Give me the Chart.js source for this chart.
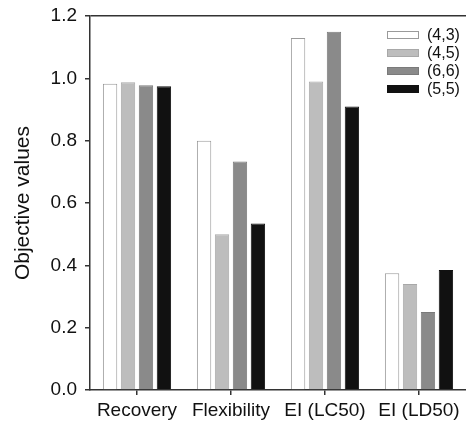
<!DOCTYPE html>
<html><head><meta charset="utf-8">
<script src="https://cdn.jsdelivr.net/npm/chart.js@4/dist/chart.umd.min.js"></script>
<style>html,body{margin:0;padding:0;background:#fff;}#wrap{width:466px;height:426px;}</style>
</head><body><div id="wrap"><canvas id="c" width="466" height="426"></canvas></div>
<script>
const categories = ['Recovery', 'Flexibility', 'EI (LC50)', 'EI (LD50)'];
const seriesLabels = ['(4,3)', '(4,5)', '(6,6)', '(5,5)'];
const s43 = [0.983, 0.80, 1.13, 0.375];
const s45 = [0.988, 0.50, 0.99, 0.34];
const s66 = [0.978, 0.733, 1.15, 0.25];
const s55 = [0.975, 0.534, 0.91, 0.385];
const yTicks = [0.0, 0.2, 0.4, 0.6, 0.8, 1.0, 1.2];

const fills = ['#ffffff', '#bdbdbd', '#8a8a8a', '#111111'];
const borders = ['#9a9a9a', '#a8a8a8', '#7a7a7a', '#111111'];
const FONT = "'Liberation Sans', Arial, Helvetica, sans-serif";

const legendPlugin = {
  id: 'innerLegend',
  afterDraw(chart) {
    const ctx = chart.ctx;
    const x0 = 387, y0 = 35, step = 18;
    ctx.save();
    chart.data.datasets.forEach((ds, i) => {
      const y = y0 + i * step;
      ctx.fillStyle = ds.backgroundColor;
      ctx.fillRect(x0, y - 4, 32, 8);
      ctx.strokeStyle = ds.borderColor;
      ctx.lineWidth = 1;
      ctx.strokeRect(x0 + 0.5, y - 3.5, 31, 7);
      ctx.fillStyle = '#111';
      ctx.font = '16px ' + FONT;
      ctx.textBaseline = 'middle';
      ctx.textAlign = 'left';
      ctx.fillText(ds.label, 427, y + 1);
    });
    ctx.restore();
  }
};

const datasets = [s43, s45, s66, s55].map((d, i) => ({
  label: seriesLabels[i],
  data: d,
  backgroundColor: fills[i],
  borderColor: borders[i],
  borderWidth: 1,
  categoryPercentage: 0.764,
  barPercentage: 0.8
}));

new Chart(document.getElementById('c'), {
  type: 'bar',
  data: { labels: categories, datasets },
  plugins: [legendPlugin],
  options: {
    responsive: false,
    animation: false,
    events: [],
    layout: { padding: { top: 5, right: 0, left: 0, bottom: 0 } },
    plugins: { legend: { display: false }, tooltip: { enabled: false } },
    scales: {
      x: {
        grid: { display: true, drawOnChartArea: false, offset: false, tickLength: 5, tickColor: '#333', lineWidth: 1.5 },
        border: { color: '#333', width: 1.5 },
        ticks: { color: '#111', font: { size: 19, family: FONT }, padding: 4, maxRotation: 0, autoSkip: false },
        afterFit(scale) { scale.height = 36; }
      },
      y: {
        min: 0, max: 1.2,
        afterBuildTicks(scale) { scale.ticks = yTicks.map(v => ({ value: v })); },
        grid: {
          drawOnChartArea: true, tickLength: 5, tickColor: '#333', lineWidth: 1.5,
          color: ctx => (ctx.tick && Math.abs(ctx.tick.value - 1.2) < 1e-9) ? '#333' : 'rgba(0,0,0,0)'
        },
        border: { color: '#333', width: 1.5 },
        ticks: { color: '#111', font: { size: 19, family: FONT, lineHeight: 0.85 }, padding: 8, callback: v => Number(v).toFixed(1) },
        title: { display: true, text: 'Objective values', color: '#111', font: { size: 21, family: FONT }, padding: { top: 11, bottom: 0 } },
        afterFit(scale) { scale.width = 90; }
      }
    }
  }
});
</script>
</body></html>
